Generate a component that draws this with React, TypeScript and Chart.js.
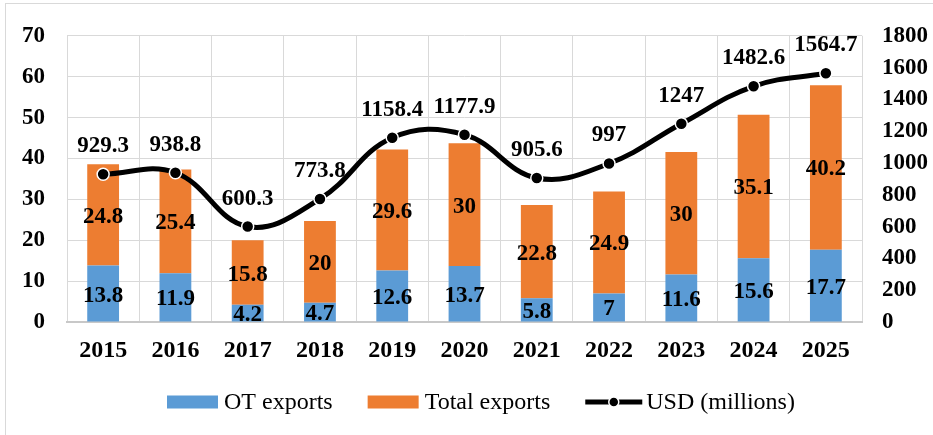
import React, { useEffect, useRef } from 'react';
import { Chart, registerables } from 'chart.js';

Chart.register(...registerables);

const FONT = "'Liberation Serif', 'Times New Roman', serif";

const years = ['2015', '2016', '2017', '2018', '2019', '2020', '2021', '2022', '2023', '2024', '2025'];
const otExports = [13.8, 11.9, 4.2, 4.7, 12.6, 13.7, 5.8, 7, 11.6, 15.6, 17.7];
const totalExports = [24.8, 25.4, 15.8, 20, 29.6, 30, 22.8, 24.9, 30, 35.1, 40.2];
const usdMillions = [929.3, 938.8, 600.3, 773.8, 1158.4, 1177.9, 905.6, 997, 1247, 1482.6, 1564.7];
const seriesNames = ['OT exports', 'Total exports', 'USD (millions)'];
const leftAxis = { min: 0, max: 70, step: 10 };
const rightAxis = { min: 0, max: 1800, step: 200 };

const BLUE = '#5B9BD5';
const ORANGE = '#ED7D31';
const GRID = '#d9d9d9';

const framePlugin = {
  id: 'frame',
  beforeDraw(chart: any) {
    const ctx = chart.ctx;
    ctx.save();
    ctx.fillStyle = '#fff';
    ctx.fillRect(0, 0, chart.width, chart.height);
    ctx.strokeStyle = '#d9d9d9';
    ctx.lineWidth = 1;
    ctx.strokeRect(5.5, 3.5, chart.width + 20, chart.height + 20);
    ctx.restore();
  },
};

const labelPlugin = {
  id: 'valueLabels',
  afterDatasetsDraw(chart: any) {
    const ctx = chart.ctx;
    ctx.save();
    ctx.font = `bold 23px ${FONT}`;
    ctx.fillStyle = '#000';
    ctx.textAlign = 'center';
    ctx.textBaseline = 'alphabetic';
    chart.data.datasets.forEach((ds: any, i: number) => {
      const meta = chart.getDatasetMeta(i);
      meta.data.forEach((el: any, j: number) => {
        const v = ds.data[j];
        if (meta.type === 'bar') {
          const p = el.getProps(['x', 'y', 'base'], true);
          ctx.fillText(String(v), p.x, (p.y + p.base) / 2 + 8);
        } else {
          ctx.fillText(String(v), el.x, el.y - 22);
        }
      });
    });
    ctx.restore();
  },
};

const legendPlugin = {
  id: 'customLegend',
  afterDraw(chart: any) {
    const ctx = chart.ctx;
    ctx.save();
    ctx.font = `24px ${FONT}`;
    ctx.fillStyle = '#000';
    ctx.textBaseline = 'middle';
    ctx.textAlign = 'left';
    const cy = 402;
    let x = 167;
    chart.data.datasets.forEach((ds: any) => {
      const label = ds.label;
      if (ds.type === 'line') {
        const w = 57;
        ctx.strokeStyle = '#000';
        ctx.lineWidth = 5;
        ctx.beginPath();
        ctx.moveTo(x, cy);
        ctx.lineTo(x + w, cy);
        ctx.stroke();
        ctx.beginPath();
        ctx.arc(x + w / 2, cy, 5, 0, Math.PI * 2);
        ctx.fillStyle = '#000';
        ctx.fill();
        ctx.strokeStyle = '#fff';
        ctx.lineWidth = 1.5;
        ctx.stroke();
        x += w + 4;
      } else {
        ctx.fillStyle = ds.backgroundColor;
        ctx.fillRect(x, cy - 6.5, 51, 13);
        x += 51 + 6;
      }
      ctx.fillStyle = '#000';
      ctx.fillText(label, x, cy + 1);
      x += ctx.measureText(label).width + 35;
    });
    ctx.restore();
  },
};

export default function App() {
  const canvasRef = useRef<HTMLCanvasElement | null>(null);

  useEffect(() => {
    document.body.style.margin = '0';
    const canvas = canvasRef.current;
    if (!canvas) return;
    const chart = new Chart(canvas, {
      type: 'bar',
      data: {
        labels: years,
        datasets: [
          {
            type: 'bar',
            label: seriesNames[0],
            data: otExports,
            backgroundColor: BLUE,
            yAxisID: 'y',
            stack: 's',
            barPercentage: 0.44,
            categoryPercentage: 1,
            order: 1,
          },
          {
            type: 'bar',
            label: seriesNames[1],
            data: totalExports,
            backgroundColor: ORANGE,
            yAxisID: 'y',
            stack: 's',
            barPercentage: 0.44,
            categoryPercentage: 1,
            order: 1,
          },
          {
            type: 'line',
            label: seriesNames[2],
            data: usdMillions,
            yAxisID: 'y2',
            borderColor: '#000',
            backgroundColor: '#000',
            borderWidth: 5,
            tension: 0.4,
            pointRadius: 6,
            pointBackgroundColor: '#000',
            pointBorderColor: '#fff',
            pointBorderWidth: 1.5,
            fill: false,
            order: 0,
          } as any,
        ],
      },
      options: {
        animation: false,
        responsive: true,
        maintainAspectRatio: false,
        layout: { padding: { top: 32, bottom: 0, left: 0, right: 0 } },
        plugins: {
          legend: { display: false },
          tooltip: { enabled: false },
        },
        scales: {
          x: {
            stacked: true,
            offset: true,
            grid: { display: true, offset: true, color: GRID, lineWidth: 1, drawTicks: false },
            border: { display: true, color: '#c8c8c8', width: 2 },
            ticks: { color: '#000', font: { family: FONT, size: 24, weight: 'bold' }, padding: 14 },
            afterFit(scale: any) {
              scale.height = 113;
            },
          },
          y: {
            position: 'left',
            stacked: true,
            min: leftAxis.min,
            max: leftAxis.max,
            grid: { color: GRID, lineWidth: 1, drawTicks: false },
            border: { display: false },
            ticks: {
              stepSize: leftAxis.step,
              color: '#000',
              font: { family: FONT, size: 23, weight: 'bold' },
              padding: 22,
              callback: (v: any) => String(v),
            },
            afterFit(scale: any) {
              scale.width = 67;
            },
          },
          y2: {
            position: 'right',
            min: rightAxis.min,
            max: rightAxis.max,
            grid: { display: false, drawTicks: false },
            border: { display: false },
            ticks: {
              stepSize: rightAxis.step,
              color: '#000',
              font: { family: FONT, size: 23, weight: 'bold' },
              padding: 20,
              callback: (v: any) => String(v),
            },
            afterFit(scale: any) {
              scale.width = 71;
            },
          },
        },
      },
      plugins: [framePlugin, labelPlugin, legendPlugin],
    });
    return () => chart.destroy();
  }, []);

  return (
    <div style={{ position: 'relative', width: 933, height: 435 }}>
      <canvas ref={canvasRef} />
    </div>
  );
}
